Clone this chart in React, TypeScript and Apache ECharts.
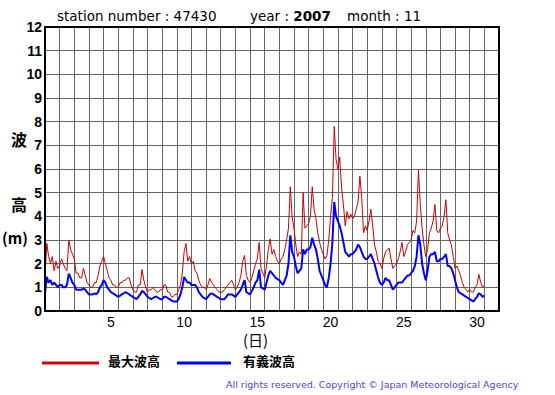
import React, { useEffect, useRef } from "react";
import * as echarts from "echarts";

// day categories on the x axis (Nov 1 .. a blank 31st cell)
const dayLabels = [
  "1", "2", "3", "4", "5", "6", "7", "8", "9", "10",
  "11", "12", "13", "14", "15", "16", "17", "18", "19", "20",
  "21", "22", "23", "24", "25", "26", "27", "28", "29", "30", "31",
];
const shownDayLabels = ["5", "10", "15", "20", "25", "30"];
const yTicks = [0, 12, 1]; // min, max, interval
const stepHours = 3;

// 最大波高 (m), every 3 hours from Nov 1 00:00
const maxWave = [
  1.5, 2.85, 2.3, 2.0, 2.3, 1.7, 2.1, 1.8, // 1
  1.9, 2.2, 2.0, 1.8, 1.7, 3.0, 2.6, 2.4, // 2
  2.2, 1.6, 1.6, 1.4, 1.4, 1.8, 1.5, 1.2, // 3
  1.1, 1.0, 1.0, 1.2, 1.2, 1.5, 1.9, 2.1, // 4
  2.3, 2.0, 1.7, 1.4, 1.3, 1.1, 1.1, 1.0, // 5
  1.0, 1.2, 1.2, 1.3, 1.3, 1.4, 1.4, 1.1, // 6
  0.9, 0.8, 0.8, 1.1, 1.1, 1.75, 1.3, 1.0, // 7
  0.8, 0.9, 0.9, 1.0, 0.9, 0.8, 0.8, 0.9, // 8
  0.9, 1.1, 1.1, 0.8, 0.8, 0.6, 0.6, 0.7, // 9
  0.7, 0.9, 1.1, 1.6, 2.5, 2.85, 2.1, 2.3, // 10
  2.0, 2.1, 1.7, 1.6, 1.3, 1.1, 1.0, 1.0, // 11
  0.9, 1.1, 1.37, 1.2, 1.1, 1.0, 0.9, 0.8, // 12
  0.8, 0.8, 0.9, 1.0, 1.1, 1.2, 1.3, 1.1, // 13
  0.9, 1.0, 1.2, 1.5, 2.1, 2.35, 1.5, 1.3, // 14
  1.2, 1.4, 1.7, 2.0, 2.2, 2.9, 1.8, 1.6, // 15
  1.4, 1.9, 2.6, 3.05, 2.4, 2.6, 2.3, 2.1, // 16
  2.0, 2.2, 2.3, 2.6, 3.0, 3.5, 5.25, 4.0, // 17
  3.5, 2.8, 2.3, 2.5, 2.4, 5.0, 3.5, 3.6, // 18
  3.7, 4.0, 5.25, 4.3, 3.9, 3.3, 2.9, 2.6, // 19
  2.4, 2.2, 2.35, 3.0, 4.0, 4.8, 7.8, 6.4, // 20
  6.0, 6.5, 5.2, 4.5, 3.6, 4.2, 3.9, 4.1, // 21
  3.9, 4.0, 4.3, 4.6, 5.7, 4.8, 3.3, 3.6, // 22
  3.4, 3.8, 4.3, 3.6, 2.8, 2.5, 2.1, 2.0, // 23
  1.8, 2.2, 2.5, 2.6, 2.65, 2.2, 1.8, 1.9, // 24
  2.0, 2.2, 2.5, 2.9, 2.3, 2.5, 2.8, 2.9, // 25
  3.0, 3.4, 3.3, 3.8, 5.95, 4.5, 3.5, 2.8, // 26
  2.3, 2.6, 3.3, 3.5, 3.8, 4.5, 3.4, 3.3, // 27
  3.5, 3.6, 4.0, 4.7, 3.3, 3.0, 2.8, 2.3, // 28
  1.8, 1.9, 1.7, 1.5, 1.2, 1.0, 0.9, 0.8, // 29
  0.9, 0.8, 0.8, 1.0, 1.1, 1.55, 1.2, 1.0, // 30
  1.1,
];

// 有義波高 (m), every 3 hours from Nov 1 00:00
const sigWave = [
  0.75, 1.44, 1.2, 1.3, 1.1, 1.2, 1.1, 1.0, // 1
  1.1, 1.1, 1.0, 1.0, 1.1, 1.58, 1.4, 1.2, // 2
  1.1, 0.9, 0.9, 0.9, 0.9, 0.95, 0.9, 0.8, // 3
  0.7, 0.7, 0.7, 0.75, 0.7, 0.8, 1.0, 1.1, // 4
  1.3, 1.2, 1.0, 0.9, 0.8, 0.75, 0.7, 0.65, // 5
  0.6, 0.65, 0.7, 0.75, 0.8, 0.75, 0.7, 0.65, // 6
  0.6, 0.55, 0.5, 0.6, 0.7, 0.85, 0.8, 0.7, // 7
  0.6, 0.55, 0.5, 0.55, 0.6, 0.6, 0.55, 0.5, // 8
  0.5, 0.6, 0.6, 0.55, 0.5, 0.45, 0.4, 0.4, // 9
  0.4, 0.5, 0.7, 1.0, 1.44, 1.3, 1.2, 1.2, // 10
  1.1, 1.1, 1.1, 1.0, 0.8, 0.7, 0.6, 0.55, // 11
  0.5, 0.6, 0.7, 0.75, 0.7, 0.65, 0.6, 0.55, // 12
  0.5, 0.5, 0.5, 0.6, 0.7, 0.7, 0.7, 0.65, // 13
  0.6, 0.7, 0.8, 0.9, 1.1, 1.3, 0.8, 0.75, // 14
  0.7, 0.85, 1.0, 1.2, 1.3, 1.75, 1.0, 0.95, // 15
  0.9, 1.2, 1.5, 1.7, 1.6, 1.5, 1.4, 1.35, // 16
  1.3, 1.2, 1.1, 1.3, 1.5, 2.0, 3.2, 2.5, // 17
  2.3, 1.9, 1.6, 1.7, 1.8, 2.6, 2.4, 2.6, // 18
  2.6, 2.7, 3.1, 2.8, 2.6, 2.2, 1.7, 1.5, // 19
  1.3, 1.1, 1.0, 1.4, 2.0, 2.9, 4.6, 4.0, // 20
  3.8, 3.6, 3.3, 2.9, 2.5, 2.4, 2.3, 2.4, // 21
  2.4, 2.5, 2.6, 2.8, 2.7, 2.5, 2.3, 2.2, // 22
  2.2, 2.3, 2.4, 2.2, 2.0, 1.7, 1.4, 1.2, // 23
  1.1, 1.2, 1.4, 1.3, 1.3, 1.1, 0.9, 1.0, // 24
  1.1, 1.2, 1.2, 1.2, 1.3, 1.4, 1.5, 1.5, // 25
  1.6, 1.7, 1.9, 2.3, 3.2, 2.8, 2.0, 1.6, // 26
  1.3, 1.7, 2.3, 2.4, 2.4, 2.5, 2.1, 2.1, // 27
  2.2, 2.2, 2.3, 2.4, 1.9, 1.9, 1.8, 1.6, // 28
  1.3, 1.0, 0.8, 0.75, 0.7, 0.65, 0.6, 0.55, // 29
  0.5, 0.45, 0.4, 0.5, 0.6, 0.75, 0.7, 0.6, // 30
  0.65,
];

const seriesNames = ["最大波高", "有義波高"];
const seriesColors = ["#cc0000", "#0000ff"];

const GRID = { left: 45, top: 27, width: 454, height: 284 };
const SANS = "Liberation Sans, Arial, sans-serif";
const TITLE_FONT = "DejaVu Sans, Verdana, sans-serif";
const CJK = "Noto Sans CJK JP";

export default function App() {
  const ref = useRef<HTMLDivElement>(null);

  useEffect(() => {
    if (!ref.current) return;
    const chart = echarts.init(ref.current, null, { renderer: "svg" });
    const toPoints = (arr: number[]) =>
      arr.map((v, i) => [(i * stepHours) / 24, v]);

    chart.setOption({
      animation: false,
      backgroundColor: "#ffffff",
      textStyle: { fontFamily: SANS },
      grid: { ...GRID, containLabel: false },
      xAxis: [
        {
          type: "category",
          data: dayLabels,
          boundaryGap: true,
          axisLine: { show: false },
          axisTick: { show: false },
          axisLabel: {
            interval: (_i: number, v: string) => shownDayLabels.includes(v),
            color: "#000",
            fontSize: 14,
            margin: 4,
            fontFamily: SANS,
          },
          splitLine: {
            show: true,
            interval: 0,
            lineStyle: { color: "#666", width: 1 },
          },
        },
        {
          type: "value",
          min: 0,
          max: dayLabels.length,
          show: false,
        },
      ],
      yAxis: {
        type: "value",
        min: yTicks[0],
        max: yTicks[1],
        interval: yTicks[2],
        axisLine: { show: false },
        axisTick: { show: false },
        axisLabel: {
          color: "#000",
          fontSize: 14,
          fontWeight: "bold",
          margin: 3,
          fontFamily: SANS,
        },
        splitLine: { show: true, lineStyle: { color: "#666", width: 1 } },
      },
      series: [
        {
          name: seriesNames[0],
          type: "line",
          xAxisIndex: 1,
          data: toPoints(maxWave),
          showSymbol: false,
          symbol: "none",
          lineStyle: { color: seriesColors[0], width: 1 },
          z: 3,
        },
        {
          name: seriesNames[1],
          type: "line",
          xAxisIndex: 1,
          data: toPoints(sigWave),
          showSymbol: false,
          symbol: "none",
          lineStyle: { color: seriesColors[1], width: 2 },
          z: 4,
        },
      ],
      graphic: [
        {
          type: "rect",
          z: 100,
          shape: { x: GRID.left, y: GRID.top, width: GRID.width, height: GRID.height },
          style: { fill: "none", stroke: "#000", lineWidth: 2 },
        },
        {
          type: "text",
          left: 57,
          top: 9,
          style: { text: "station number : 47430", fontSize: 13.5, fill: "#000", fontFamily: TITLE_FONT },
        },
        {
          type: "text",
          left: 250,
          top: 9,
          style: {
            text: "{n|year : }{b|2007}",
            fontSize: 13.5,
            fill: "#000",
            fontFamily: TITLE_FONT,
            rich: {
              n: { fontSize: 13.5, fontFamily: TITLE_FONT },
              b: { fontSize: 13.5, fontWeight: "bold", fontFamily: TITLE_FONT },
            },
          },
        },
        {
          type: "text",
          left: 347,
          top: 9,
          style: { text: "month : 11", fontSize: 13.5, fill: "#000", fontFamily: TITLE_FONT },
        },
        {
          type: "text",
          left: 11,
          top: 131,
          style: { text: "波", fontSize: 16, fontWeight: "bold", fill: "#000", fontFamily: CJK },
        },
        {
          type: "text",
          left: 11,
          top: 196,
          style: { text: "高", fontSize: 16, fontWeight: "bold", fill: "#000", fontFamily: CJK },
        },
        {
          type: "text",
          left: 2,
          top: 230,
          style: { text: "(m)", fontSize: 15, fontWeight: "bold", fill: "#000", fontFamily: CJK },
        },
        {
          type: "text",
          left: 243,
          top: 332,
          style: { text: "(日)", fontSize: 15, fill: "#000", fontFamily: CJK },
        },
        {
          type: "line",
          shape: { x1: 42, y1: 363, x2: 99, y2: 363 },
          style: { stroke: seriesColors[0], lineWidth: 3 },
        },
        {
          type: "text",
          left: 108,
          top: 354,
          style: { text: seriesNames[0], fontSize: 13, fontWeight: "bold", fill: "#000", fontFamily: CJK },
        },
        {
          type: "line",
          shape: { x1: 177, y1: 363, x2: 231, y2: 363 },
          style: { stroke: seriesColors[1], lineWidth: 3 },
        },
        {
          type: "text",
          left: 243,
          top: 354,
          style: { text: seriesNames[1], fontSize: 13, fontWeight: "bold", fill: "#000", fontFamily: CJK },
        },
        {
          type: "text",
          left: 226,
          top: 379,
          style: {
            text: "All rights reserved. Copyright © Japan Meteorological Agency",
            fontSize: 9.5,
            fill: "#4848e0",
            fontFamily: "DejaVu Sans, Verdana, sans-serif",
          },
        },
      ],
    });
    return () => chart.dispose();
  }, []);

  return (
    <div
      ref={ref}
      style={{ position: "absolute", left: 0, top: 0, width: 555, height: 395 }}
    />
  );
}
